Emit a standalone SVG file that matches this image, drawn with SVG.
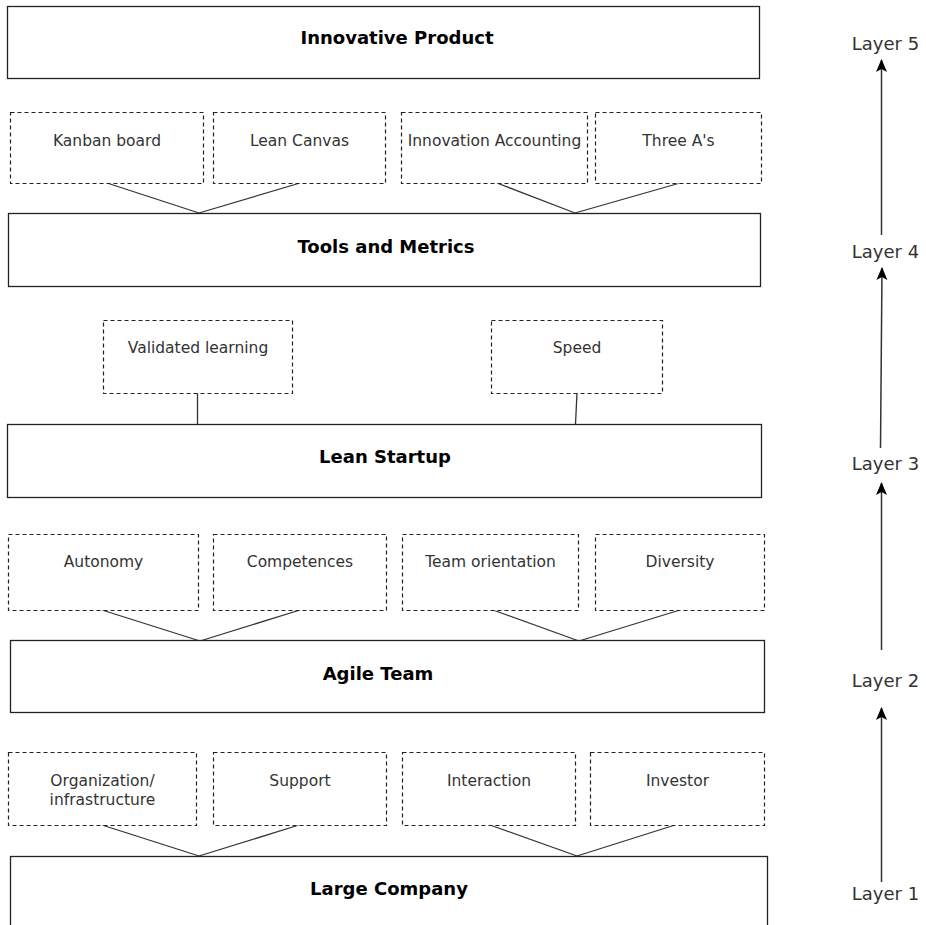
<svg xmlns="http://www.w3.org/2000/svg" width="926" height="925" viewBox="0 0 926 925">
  <defs>
    <style>
      .box { fill: #fff; stroke: #222; stroke-width: 1.3; }
      .dash { fill: #fff; stroke: #222; stroke-width: 1.2; stroke-dasharray: 4 3; }
      .title { font-family: "DejaVu Sans", Verdana, sans-serif; font-weight: bold; font-size: 18px; fill: #000; text-anchor: middle; }
      .label { font-family: "DejaVu Sans", Verdana, sans-serif; font-size: 15.5px; fill: #333; text-anchor: middle; }
      .layer { font-family: "DejaVu Sans", Verdana, sans-serif; font-size: 18px; fill: #333; text-anchor: middle; }
      .link { fill: none; stroke: #333; stroke-width: 1.3; }
      .arrow { fill: none; stroke: #333; stroke-width: 1.5; marker-end: url(#head); }
    </style>
    <marker id="head" viewBox="0 0 13 12" refX="12" refY="6" markerWidth="13" markerHeight="12" markerUnits="userSpaceOnUse" orient="auto">
      <path d="M0,0.5 L13,6 L0,11.5 L3,6 Z" fill="#000"/>
    </marker>
  </defs>

  <rect width="926" height="925" fill="#fff"/>

  <!-- connectors -->
  <g id="connectors">
    <line class="link" x1="107" y1="183" x2="199" y2="213"/>
    <line class="link" x1="300" y1="183" x2="199" y2="213"/>
    <line class="link" x1="497" y1="183" x2="575" y2="213"/>
    <line class="link" x1="680" y1="183" x2="575" y2="213"/>
    <line class="link" x1="197.5" y1="393" x2="197.5" y2="424"/>
    <line class="link" x1="577" y1="393" x2="575.5" y2="424"/>
    <line class="link" x1="102" y1="610" x2="200" y2="641"/>
    <line class="link" x1="300" y1="610" x2="200" y2="641"/>
    <line class="link" x1="493" y1="610" x2="579" y2="641"/>
    <line class="link" x1="680" y1="610" x2="579" y2="641"/>
    <line class="link" x1="102" y1="825" x2="199" y2="856"/>
    <line class="link" x1="299" y1="825" x2="199" y2="856"/>
    <line class="link" x1="490" y1="825" x2="577" y2="856"/>
    <line class="link" x1="675" y1="825" x2="577" y2="856"/>
    <!-- layer progression arrows -->
    <line class="arrow" x1="881.5" y1="882" x2="881.5" y2="708"/>
    <line class="arrow" x1="881.5" y1="650" x2="881.5" y2="483"/>
    <line class="arrow" x1="880.5" y1="448" x2="882" y2="268"/>
    <line class="arrow" x1="881.5" y1="235" x2="881.5" y2="60"/>
  </g>

  <!-- layer 5 -->
  <g id="innovative-product">
    <rect class="box" x="7.5" y="6.5" width="752" height="72"/>
    <text class="title" x="397" y="44">Innovative Product</text>
  </g>

  <!-- layer 4 inputs -->
  <g id="kanban-board">
    <rect class="dash" x="10.5" y="112.5" width="193" height="71"/>
    <text class="label" x="107" y="146">Kanban board</text>
  </g>
  <g id="lean-canvas">
    <rect class="dash" x="213.5" y="112.5" width="172" height="71"/>
    <text class="label" x="299.5" y="146">Lean Canvas</text>
  </g>
  <g id="innovation-accounting">
    <rect class="dash" x="401.5" y="112.5" width="186" height="71"/>
    <text class="label" x="494.5" y="146">Innovation Accounting</text>
  </g>
  <g id="three-as">
    <rect class="dash" x="595.5" y="112.5" width="166" height="71"/>
    <text class="label" x="678.5" y="146">Three A's</text>
  </g>

  <!-- layer 4 -->
  <g id="tools-and-metrics">
    <rect class="box" x="8.5" y="213.5" width="752" height="73"/>
    <text class="title" x="386" y="252.5">Tools and Metrics</text>
  </g>

  <!-- layer 3 inputs -->
  <g id="validated-learning">
    <rect class="dash" x="103.5" y="320.5" width="189" height="73"/>
    <text class="label" x="198" y="353">Validated learning</text>
  </g>
  <g id="speed">
    <rect class="dash" x="491.5" y="320.5" width="171" height="73"/>
    <text class="label" x="577" y="353">Speed</text>
  </g>

  <!-- layer 3 -->
  <g id="lean-startup">
    <rect class="box" x="7.5" y="424.5" width="754" height="73"/>
    <text class="title" x="385" y="463">Lean Startup</text>
  </g>

  <!-- layer 2 inputs -->
  <g id="autonomy">
    <rect class="dash" x="8.5" y="534.5" width="190" height="76"/>
    <text class="label" x="103.5" y="567">Autonomy</text>
  </g>
  <g id="competences">
    <rect class="dash" x="213.5" y="534.5" width="173" height="76"/>
    <text class="label" x="300" y="567">Competences</text>
  </g>
  <g id="team-orientation">
    <rect class="dash" x="402.5" y="534.5" width="176" height="76"/>
    <text class="label" x="490.5" y="567">Team orientation</text>
  </g>
  <g id="diversity">
    <rect class="dash" x="595.5" y="534.5" width="169" height="76"/>
    <text class="label" x="680" y="567">Diversity</text>
  </g>

  <!-- layer 2 -->
  <g id="agile-team">
    <rect class="box" x="10.5" y="640.5" width="754" height="72"/>
    <text class="title" x="378" y="679.5">Agile Team</text>
  </g>

  <!-- layer 1 inputs -->
  <g id="organization-infrastructure">
    <rect class="dash" x="8.5" y="752.5" width="188" height="73"/>
    <text class="label" x="102.5" y="786">Organization/</text>
    <text class="label" x="102.5" y="805">infrastructure</text>
  </g>
  <g id="support">
    <rect class="dash" x="213.5" y="752.5" width="173" height="73"/>
    <text class="label" x="300" y="786">Support</text>
  </g>
  <g id="interaction">
    <rect class="dash" x="402.5" y="752.5" width="173" height="73"/>
    <text class="label" x="489" y="786">Interaction</text>
  </g>
  <g id="investor">
    <rect class="dash" x="590.5" y="752.5" width="174" height="73"/>
    <text class="label" x="677.5" y="786">Investor</text>
  </g>

  <!-- layer 1 -->
  <g id="large-company">
    <rect class="box" x="10.5" y="856.5" width="757" height="100"/>
    <text class="title" x="389" y="894.5">Large Company</text>
  </g>

  <!-- layer labels -->
  <g id="layer-labels">
    <text class="layer" x="885.5" y="50">Layer 5</text>
    <text class="layer" x="885.5" y="258">Layer 4</text>
    <text class="layer" x="885.5" y="470">Layer 3</text>
    <text class="layer" x="885.5" y="687">Layer 2</text>
    <text class="layer" x="885.5" y="900">Layer 1</text>
  </g>
</svg>
